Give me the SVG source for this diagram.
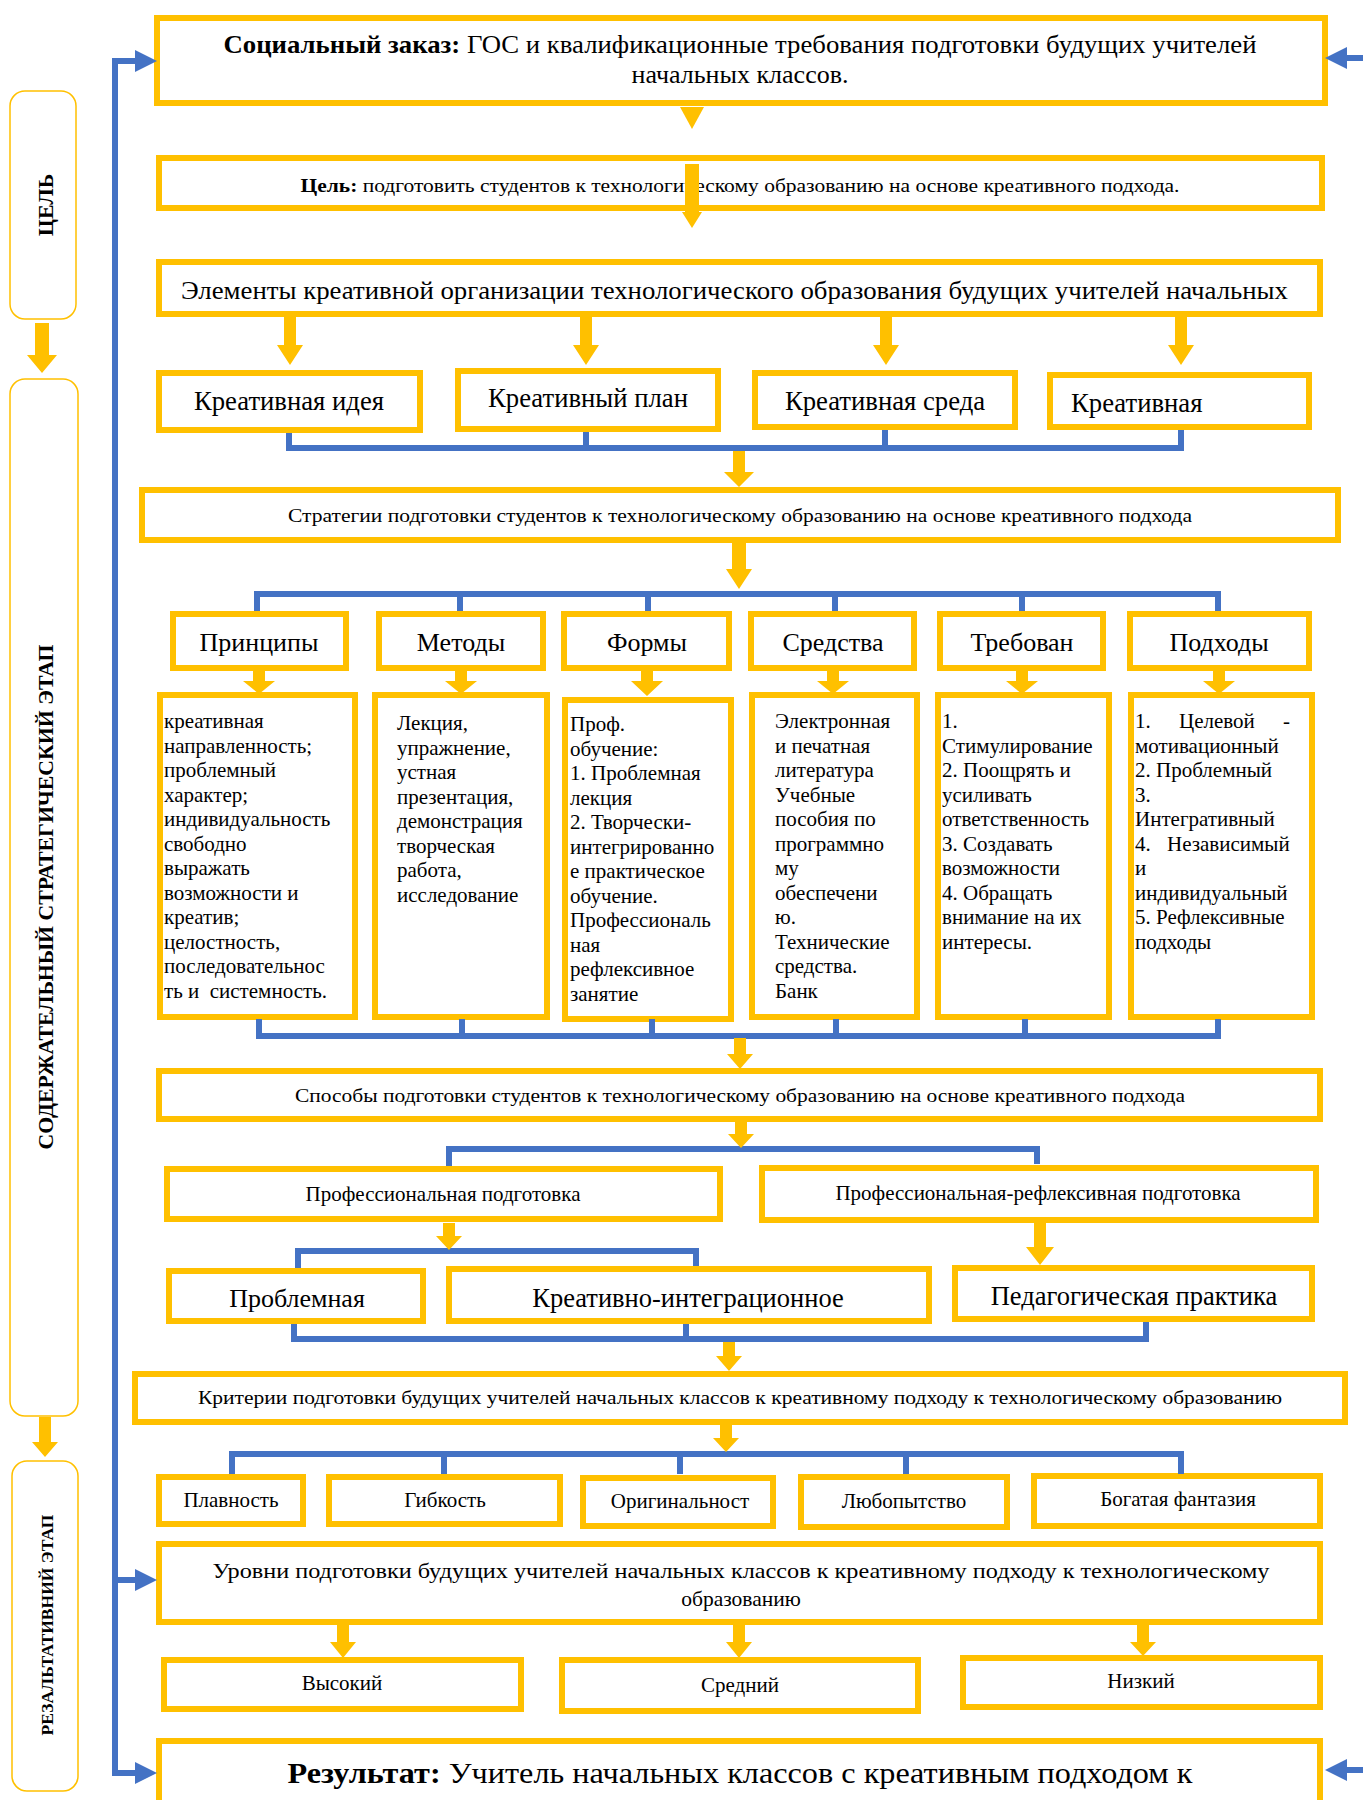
<svg xmlns="http://www.w3.org/2000/svg" width="1363" height="1800" viewBox="0 0 1363 1800">
<style>
.box{fill:#fff;stroke:#FFC000;stroke-width:6}
.side{fill:#fff;stroke:#FFC000;stroke-width:1.5}
.ya{fill:#FFC000}
.bl{fill:none;stroke:#4472C4;stroke-width:6;stroke-linejoin:miter}
.ba{fill:#4472C4}
text{font-family:"Liberation Serif","Times New Roman",serif;fill:#000}
.c{text-anchor:middle}
.b{font-weight:bold}
.t21{font-size:21px}
</style>
<rect width="1363" height="1800" fill="#fff"/>
<g id="nodes">
  <g id="side-goal"><rect class="side" x="10" y="91" width="66" height="228" rx="15"/>
    <text class="b c" font-size="22" transform="translate(53,205) rotate(-90)">ЦЕЛЬ</text></g>
  <g id="side-content"><rect class="side" x="10" y="379" width="68" height="1037" rx="15"/>
    <text class="b c" font-size="21" textLength="505" lengthAdjust="spacingAndGlyphs" transform="translate(53,897) rotate(-90)">СОДЕРЖАТЕЛЬНЫЙ СТРАТЕГИЧЕСКИЙ ЭТАП</text></g>
  <g id="side-result"><rect class="side" x="12" y="1461" width="66" height="330" rx="15"/>
    <text class="b c" font-size="17" textLength="221" lengthAdjust="spacingAndGlyphs" transform="translate(53,1625) rotate(-90)">РЕЗАЛЬТАТИВНИЙ ЭТАП</text></g>

  <g id="social"><rect class="box" x="157" y="18" width="1168" height="85"/>
    <text class="c" x="740" y="53" font-size="26" textLength="1033" lengthAdjust="spacingAndGlyphs"><tspan class="b">Социальный заказ:</tspan> ГОС и квалификационные требования подготовки будущих учителей</text>
    <text class="c" x="740" y="83" font-size="26">начальных классов.</text></g>
  <g id="goal"><rect class="box" x="159" y="158" width="1163" height="50"/>
    <text class="c" x="740" y="192" font-size="19" textLength="879" lengthAdjust="spacingAndGlyphs"><tspan class="b">Цель:</tspan> подготовить студентов к технологическому образованию на основе креативного подхода.</text></g>
  <g id="elements"><rect class="box" x="159" y="262" width="1161" height="52"/>
    <text class="c" x="734.5" y="299" font-size="25" textLength="1107" lengthAdjust="spacingAndGlyphs">Элементы креативной организации технологического образования будущих учителей начальных</text></g>
  <g id="idea"><rect class="box" x="159" y="373" width="261" height="57"/>
    <text class="c" x="289" y="410" font-size="26.7">Креативная идея</text></g>
  <g id="plan"><rect class="box" x="458" y="371" width="260" height="58"/>
    <text class="c" x="588" y="407" font-size="26.7">Креативный план</text></g>
  <g id="env"><rect class="box" x="755" y="373" width="260" height="54"/>
    <text class="c" x="885" y="410" font-size="26.7">Креативная среда</text></g>
  <g id="creative"><rect class="box" x="1050" y="375" width="259" height="52"/>
    <text x="1071" y="412" font-size="26.7">Креативная</text></g>
  <g id="strategies"><rect class="box" x="142" y="490" width="1196" height="50"/>
    <text class="c" x="740" y="522" font-size="19" textLength="904" lengthAdjust="spacingAndGlyphs">Стратегии подготовки студентов к технологическому образованию на основе креативного подхода</text></g>

  <g id="h-principles"><rect class="box" x="173" y="614" width="173" height="54"/>
    <text class="c" x="259" y="651" font-size="26">Принципы</text></g>
  <g id="h-methods"><rect class="box" x="379" y="614" width="164" height="54"/>
    <text class="c" x="461" y="651" font-size="26">Методы</text></g>
  <g id="h-forms"><rect class="box" x="564" y="614" width="165" height="54"/>
    <text class="c" x="647" y="651" font-size="26">Формы</text></g>
  <g id="h-means"><rect class="box" x="751" y="614" width="163" height="54"/>
    <text class="c" x="833" y="651" font-size="26">Средства</text></g>
  <g id="h-req"><rect class="box" x="940" y="614" width="163" height="54"/>
    <text class="c" x="1022" y="651" font-size="26">Требован</text></g>
  <g id="h-appr"><rect class="box" x="1130" y="614" width="179" height="54"/>
    <text class="c" x="1219" y="651" font-size="26">Подходы</text></g>

  <g id="c-principles"><rect class="box" x="160" y="695" width="195" height="322"/>
    <text class="t21" x="164" y="728"><tspan x="164">креативная</tspan><tspan x="164" dy="24.5">направленность;</tspan><tspan x="164" dy="24.5">проблемный</tspan><tspan x="164" dy="24.5">характер;</tspan><tspan x="164" dy="24.5">индивидуальность</tspan><tspan x="164" dy="24.5">свободно</tspan><tspan x="164" dy="24.5">выражать</tspan><tspan x="164" dy="24.5">возможности и</tspan><tspan x="164" dy="24.5">креатив;</tspan><tspan x="164" dy="24.5">целостность,</tspan><tspan x="164" dy="24.5">последовательнос</tspan><tspan x="164" dy="24.5" xml:space="preserve">ть и  системность.</tspan></text></g>
  <g id="c-methods"><rect class="box" x="375" y="695" width="172" height="322"/>
    <text class="t21" x="397" y="730"><tspan x="397">Лекция,</tspan><tspan x="397" dy="24.5">упражнение,</tspan><tspan x="397" dy="24.5">устная</tspan><tspan x="397" dy="24.5">презентация,</tspan><tspan x="397" dy="24.5">демонстрация</tspan><tspan x="397" dy="24.5">творческая</tspan><tspan x="397" dy="24.5">работа,</tspan><tspan x="397" dy="24.5">исследование</tspan></text></g>
  <g id="c-forms"><rect class="box" x="565" y="700" width="166" height="319"/>
    <text class="t21" x="570" y="731"><tspan x="570">Проф.</tspan><tspan x="570" dy="24.5">обучение:</tspan><tspan x="570" dy="24.5">1. Проблемная</tspan><tspan x="570" dy="24.5">лекция</tspan><tspan x="570" dy="24.5">2. Творчески-</tspan><tspan x="570" dy="24.5">интегрированно</tspan><tspan x="570" dy="24.5">е практическое</tspan><tspan x="570" dy="24.5">обучение.</tspan><tspan x="570" dy="24.5">Профессиональ</tspan><tspan x="570" dy="24.5">ная</tspan><tspan x="570" dy="24.5">рефлексивное</tspan><tspan x="570" dy="24.5">занятие</tspan></text></g>
  <g id="c-means"><rect class="box" x="752" y="695" width="165" height="322"/>
    <text class="t21" x="775" y="728"><tspan x="775">Электронная</tspan><tspan x="775" dy="24.5">и печатная</tspan><tspan x="775" dy="24.5">литература</tspan><tspan x="775" dy="24.5">Учебные</tspan><tspan x="775" dy="24.5">пособия по</tspan><tspan x="775" dy="24.5">программно</tspan><tspan x="775" dy="24.5">му</tspan><tspan x="775" dy="24.5">обеспечени</tspan><tspan x="775" dy="24.5">ю.</tspan><tspan x="775" dy="24.5">Технические</tspan><tspan x="775" dy="24.5">средства.</tspan><tspan x="775" dy="24.5">Банк</tspan></text></g>
  <g id="c-req"><rect class="box" x="938" y="695" width="171" height="322"/>
    <text class="t21" x="942" y="728"><tspan x="942">1.</tspan><tspan x="942" dy="24.5">Стимулирование</tspan><tspan x="942" dy="24.5">2. Поощрять и</tspan><tspan x="942" dy="24.5">усиливать</tspan><tspan x="942" dy="24.5">ответственность</tspan><tspan x="942" dy="24.5">3. Создавать</tspan><tspan x="942" dy="24.5">возможности</tspan><tspan x="942" dy="24.5">4. Обращать</tspan><tspan x="942" dy="24.5">внимание на их</tspan><tspan x="942" dy="24.5">интересы.</tspan></text></g>
  <g id="c-appr"><rect class="box" x="1131" y="695" width="181" height="322"/>
    <text class="t21" y="728"><tspan x="1135">1.</tspan><tspan x="1179">Целевой</tspan><tspan x="1283">-</tspan></text>
    <text class="t21" x="1135" y="752.5"><tspan x="1135">мотивационный</tspan><tspan x="1135" dy="24.5">2. Проблемный</tspan><tspan x="1135" dy="24.5">3.</tspan><tspan x="1135" dy="24.5">Интегративный</tspan></text>
    <text class="t21" y="850.5"><tspan x="1135">4.</tspan><tspan x="1167">Независимый</tspan></text>
    <text class="t21" x="1135" y="875"><tspan x="1135">и</tspan><tspan x="1135" dy="24.5">индивидуальный</tspan><tspan x="1135" dy="24.5">5. Рефлексивные</tspan><tspan x="1135" dy="24.5">подходы</tspan></text></g>

  <g id="ways"><rect class="box" x="159" y="1071" width="1161" height="48"/>
    <text class="c" x="740" y="1102" font-size="19" textLength="890" lengthAdjust="spacingAndGlyphs">Способы подготовки студентов к технологическому образованию на основе креативного подхода</text></g>
  <g id="prof"><rect class="box" x="167" y="1169" width="553" height="50"/>
    <text class="c" x="443" y="1201" font-size="21">Профессиональная подготовка</text></g>
  <g id="prof-refl"><rect class="box" x="762" y="1168" width="554" height="52"/>
    <text class="c" x="1038" y="1200" font-size="21">Профессиональная-рефлексивная подготовка</text></g>
  <g id="problem"><rect class="box" x="169" y="1271" width="254" height="50"/>
    <text class="c" x="297" y="1307" font-size="26">Проблемная</text></g>
  <g id="creative-int"><rect class="box" x="449" y="1269" width="480" height="52"/>
    <text class="c" x="688" y="1307" font-size="26.5">Креативно-интеграционное</text></g>
  <g id="practice"><rect class="box" x="955" y="1268" width="357" height="51"/>
    <text class="c" x="1134" y="1305" font-size="26.5">Педагогическая практика</text></g>
  <g id="criteria"><rect class="box" x="135" y="1374" width="1210" height="48"/>
    <text class="c" x="740" y="1404" font-size="19" textLength="1084" lengthAdjust="spacingAndGlyphs">Критерии подготовки будущих учителей начальных классов к креативному подходу к технологическому образованию</text></g>
  <g id="fluency"><rect class="box" x="159" y="1477" width="144" height="47"/>
    <text class="c" x="231" y="1507" font-size="21">Плавность</text></g>
  <g id="flex"><rect class="box" x="329" y="1477" width="231" height="47"/>
    <text class="c" x="445" y="1507" font-size="21">Гибкость</text></g>
  <g id="orig"><rect class="box" x="583" y="1478" width="190" height="48"/>
    <text class="c" x="680" y="1508" font-size="21">Оригинальност</text></g>
  <g id="curious"><rect class="box" x="801" y="1477" width="206" height="50"/>
    <text class="c" x="904" y="1508" font-size="21">Любопытство</text></g>
  <g id="fantasy"><rect class="box" x="1034" y="1476" width="286" height="50"/>
    <text class="c" x="1178" y="1506" font-size="21">Богатая фантазия</text></g>
  <g id="levels"><rect class="box" x="159" y="1544" width="1161" height="78"/>
    <text class="c" x="741" y="1578" font-size="21.5" textLength="1057" lengthAdjust="spacingAndGlyphs">Уровни подготовки будущих учителей начальных классов к креативному подходу к технологическому</text>
    <text class="c" x="741" y="1606" font-size="21.5">образованию</text></g>
  <g id="high"><rect class="box" x="164" y="1660" width="357" height="49"/>
    <text class="c" x="342" y="1690" font-size="21">Высокий</text></g>
  <g id="mid"><rect class="box" x="562" y="1660" width="356" height="51"/>
    <text class="c" x="740" y="1692" font-size="21">Средний</text></g>
  <g id="low"><rect class="box" x="963" y="1658" width="357" height="49"/>
    <text class="c" x="1141" y="1688" font-size="21">Низкий</text></g>
  <g id="result"><rect class="box" x="159" y="1741" width="1161" height="80"/>
    <text class="c" x="740" y="1783" font-size="29" textLength="905" lengthAdjust="spacingAndGlyphs"><tspan class="b">Результат:</tspan> Учитель начальных классов с креативным подходом к</text></g>
</g>
<g id="connectors">
  <path class="bl" d="M289,433 V448 M586,432 V448 M885,430 V448 M1181,430 V448 M286,448 H1184"/>
  <path class="bl" d="M257,611 V594 H1218 V611 M460,594 V611 M648,594 V611 M835,594 V611 M1022,594 V611"/>
  <path class="bl" d="M259,1019 V1036 H1218 V1019 M462,1019 V1036 M652,1019 V1036 M836,1019 V1036 M1025,1019 V1036"/>
  <path class="bl" d="M449,1166 V1149 H1037 V1164"/>
  <path class="bl" d="M298,1268 V1251 H696 V1266"/>
  <path class="bl" d="M294,1324 V1339 H1146 V1322 M686,1324 V1339"/>
  <path class="bl" d="M232,1474 V1454 H1181 V1474 M444,1454 V1474 M680,1454 V1474 M906,1454 V1474"/>
  <path class="bl" d="M138,61 H115 V1773 H138 M115,1580 H138"/>
  <polygon class="ba" points="135,50 157,61 135,72"/>
  <polygon class="ba" points="135,1569 157,1580 135,1591"/>
  <polygon class="ba" points="135,1762 157,1773 135,1784"/>
  <path class="bl" d="M1344,58 H1363 M1344,1770 H1363"/>
  <polygon class="ba" points="1347,47 1325,58 1347,69"/>
  <polygon class="ba" points="1347,1759 1325,1770 1347,1781"/>

  <polygon class="ya" points="680,107 704,107 692,129"/>
  <polygon class="ya" points="685,164 699,164 699,212 702,212 692,228 682,212 685,212"/>
  <polygon class="ya" points="284,317 296,317 296,345 303,345 290,365 277,345 284,345"/>
  <polygon class="ya" points="580,317 592,317 592,345 599,345 586,365 573,345 580,345"/>
  <polygon class="ya" points="880,317 892,317 892,345 899,345 886,365 873,345 880,345"/>
  <polygon class="ya" points="1175,317 1187,317 1187,345 1194,345 1181,365 1168,345 1175,345"/>
  <polygon class="ya" points="733,451 745,451 745,472 754,472 739,487 724,472 733,472"/>
  <polygon class="ya" points="732,543 746,543 746,569 752,569 739,589 726,569 732,569"/>
  <polygon class="ya" points="253,671 265,671 265,681 275,681 259,694 243,681 253,681"/>
  <polygon class="ya" points="455,671 467,671 467,681 477,681 461,694 445,681 455,681"/>
  <polygon class="ya" points="641,671 653,671 653,681 663,681 647,696 631,681 641,681"/>
  <polygon class="ya" points="827,671 839,671 839,681 849,681 833,694 817,681 827,681"/>
  <polygon class="ya" points="1016,671 1028,671 1028,681 1038,681 1022,694 1006,681 1016,681"/>
  <polygon class="ya" points="1213,671 1225,671 1225,681 1235,681 1219,694 1203,681 1213,681"/>
  <polygon class="ya" points="734,1038 746,1038 746,1054 753,1054 740,1069 727,1054 734,1054"/>
  <polygon class="ya" points="735,1122 747,1122 747,1134 754,1134 741,1148 728,1134 735,1134"/>
  <polygon class="ya" points="443,1223 455,1223 455,1236 462,1236 449,1250 436,1236 443,1236"/>
  <polygon class="ya" points="1034,1223 1046,1223 1046,1247 1054,1247 1040,1265 1026,1247 1034,1247"/>
  <polygon class="ya" points="723,1342 735,1342 735,1356 742,1356 729,1371 716,1356 723,1356"/>
  <polygon class="ya" points="720,1425 732,1425 732,1438 739,1438 726,1452 713,1438 720,1438"/>
  <polygon class="ya" points="337,1625 349,1625 349,1642 356,1642 343,1658 330,1642 337,1642"/>
  <polygon class="ya" points="733,1625 745,1625 745,1642 752,1642 739,1658 726,1642 733,1642"/>
  <polygon class="ya" points="1137,1625 1149,1625 1149,1642 1156,1642 1143,1656 1130,1642 1137,1642"/>
  <polygon class="ya" points="35,323 49,323 49,355 57,355 42,373 27,355 35,355"/>
  <polygon class="ya" points="39,1417 51,1417 51,1442 58,1442 45,1457 32,1442 39,1442"/>
</g>
</svg>
